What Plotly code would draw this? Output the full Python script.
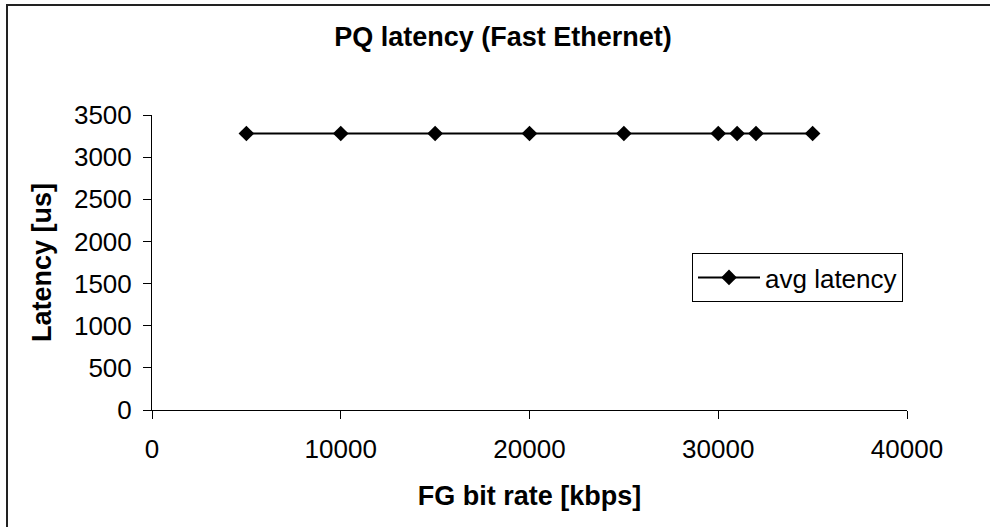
import plotly.graph_objects as go

# Data
bit_rate_kbps = [5000, 10000, 15000, 20000, 25000, 30000, 31000, 32000, 35000]
avg_latency_us = [3280, 3280, 3280, 3280, 3280, 3280, 3280, 3280, 3280]
series_name = "avg latency"
chart_title = "PQ latency (Fast Ethernet)"
x_title = "FG bit rate [kbps]"
y_title = "Latency [us]"

FONT = "Liberation Sans, Arial, sans-serif"

W, H = 990, 527
ML, MR, MT, MB = 152, 83, 115, 117
PW = W - ML - MR
PH = H - MT - MB


def px_to_paper_x(px):
    return (px - ML) / PW


def px_to_paper_y(py):
    return (H - MB - py) / PH


fig = go.Figure()
fig.add_trace(go.Scatter(
    x=bit_rate_kbps, y=avg_latency_us, name=series_name,
    mode="lines+markers",
    line=dict(color="black", width=2),
    marker=dict(symbol="diamond", size=12, color="black"),
    showlegend=True,
))

fig.update_layout(
    width=W, height=H,
    margin=dict(l=ML, r=MR, t=MT, b=MB, pad=0),
    paper_bgcolor="white", plot_bgcolor="white",
    font=dict(family=FONT, size=26, color="black"),
    title=dict(text="<b>" + chart_title + "</b>", font=dict(size=27, family=FONT),
               x=503 / W, xanchor="center", xref="container",
               y=1 - 37 / H, yanchor="middle", yref="container"),
    xaxis=dict(range=[0, 40000], dtick=10000, tick0=0, tickformat="d",
               showgrid=False, zeroline=False,
               showline=True, linecolor="black", linewidth=1,
               ticks="outside", ticklen=8, tickcolor="black", tickwidth=1,
               tickfont=dict(size=26), ticklabelstandoff=8,
               title=dict(text="<b>" + x_title + "</b>", font=dict(size=27), standoff=22)),
    yaxis=dict(range=[0, 3500], dtick=500, tick0=0, tickformat="d",
               showgrid=False, zeroline=False,
               showline=True, linecolor="black", linewidth=1,
               ticks="outside", ticklen=8, tickcolor="black", tickwidth=1,
               tickfont=dict(size=26), ticklabelstandoff=6,
               title=dict(text="<b>" + y_title + "</b>", font=dict(size=27), standoff=14)),
    legend=dict(x=px_to_paper_x(692), y=px_to_paper_y(253), xanchor="left", yanchor="top",
                bgcolor="white", bordercolor="black", borderwidth=1,
                font=dict(size=26), itemwidth=62),
    shapes=[dict(type="rect", xref="paper", yref="paper",
                 x0=px_to_paper_x(7), x1=px_to_paper_x(1000),
                 y0=px_to_paper_y(540), y1=px_to_paper_y(5),
                 line=dict(color="#222222", width=2), fillcolor="rgba(0,0,0,0)",
                 layer="below")],
)

fig.write_html("out.html")
